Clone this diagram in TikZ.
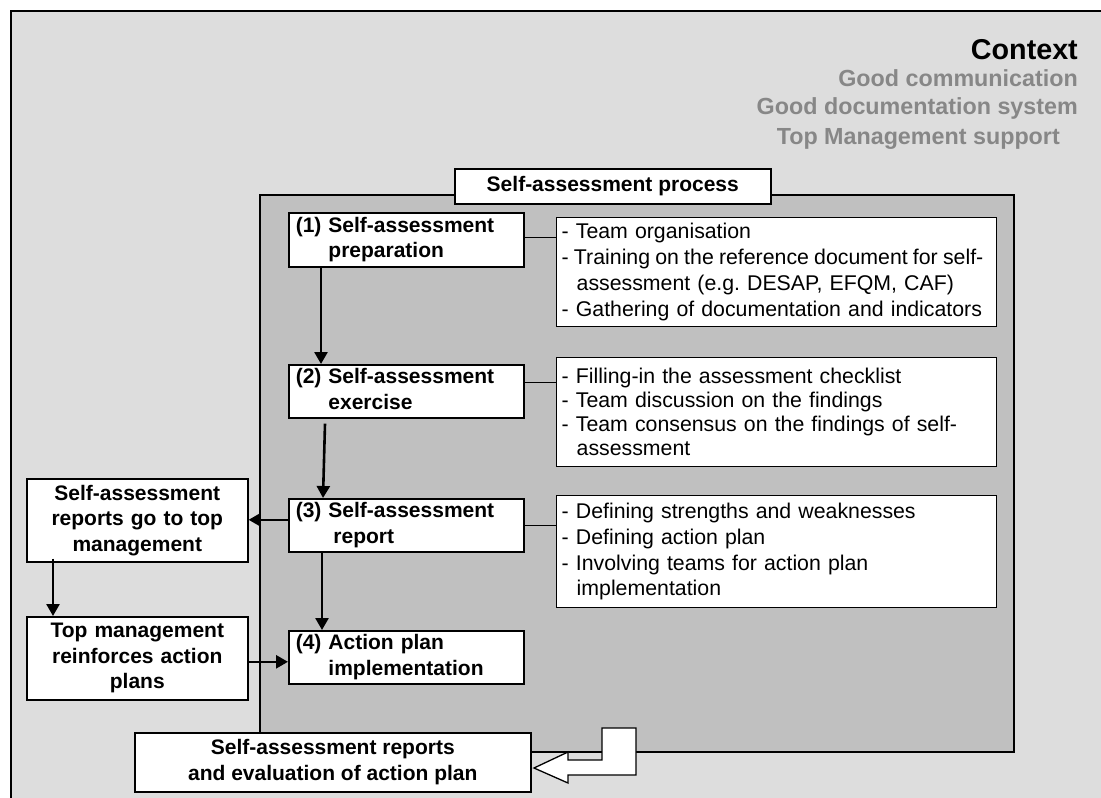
\documentclass[tikz,border=0pt]{standalone}
\usepackage{fontspec}
\setmainfont{Liberation Sans}
\usetikzlibrary{arrows.meta}
\definecolor{ctxbg}{HTML}{DDDDDD}
\definecolor{procbg}{HTML}{C0C0C0}
\definecolor{ctxgray}{HTML}{878787}
\frenchspacing
% a line set with slightly tighter word spacing
\newcommand{\tightline}[1]{\mbox{\spaceskip=0.88\fontdimen2\font\relax #1}}

\begin{document}
\begin{tikzpicture}[x=1pt,y=-1pt,
  boldtext/.style={font=\fontsize{21pt}{25.5pt}\selectfont\bfseries},
  stepbox/.style={draw, fill=white, line width=1.6pt, anchor=north west,
    text width=221pt, inner xsep=7pt, inner ysep=0pt, align=left, boldtext},
  sidebox/.style={draw, fill=white, line width=1.6pt, anchor=north west,
    text width=207pt, inner xsep=7pt, inner ysep=0pt, minimum height=83pt,
    align=center, boldtext},
  detailbox/.style={draw, fill=white, line width=1.4pt, anchor=north west,
    text width=430pt, inner xsep=5pt, inner ysep=0pt, align=left},
  ctxline/.style={anchor=base east, inner sep=0pt, text=ctxgray,
    font=\fontsize{23.3pt}{28pt}\selectfont\bfseries},
  arr/.style={line width=2.6pt, -{Triangle[width=13pt,length=12pt]}},
  link/.style={line width=1.2pt}
]
% canvas and context frame
\useasboundingbox (0,0) rectangle (1101,798);
\fill[white] (0,0) rectangle (1101,798);
\draw[fill=ctxbg, line width=1.6pt] (11,11) rectangle (1130,830);

% context heading and factors
\node[anchor=base east, inner sep=0pt, font=\fontsize{28.7pt}{34pt}\selectfont\bfseries] (ctx) at (1078,59) {Context};
\node[ctxline] (f1) at (1078,86) {Good communication};
\node[ctxline] (f2) at (1078,114) {Good documentation system};
\node[ctxline] (f3) at (1060,144) {Top Management support};

% self-assessment process area
\node[draw, fill=procbg, line width=1.8pt, anchor=north west, inner sep=0pt,
  minimum width=754pt, minimum height=557pt] (proc) at (259,194) {};
\node[draw, fill=white, line width=1.6pt, anchor=north west, inner sep=0pt,
  minimum width=316pt, minimum height=35pt, boldtext] (ptitle) at (454,168) {Self-assessment process};

% process steps
\node[stepbox, minimum height=54pt] (b1) at (288,212) {(1) Self-assessment\\\phantom{(1) }preparation};
\node[stepbox, minimum height=53pt] (b2) at (288,364) {(2) Self-assessment\\\phantom{(2) }exercise};
\node[stepbox, minimum height=53pt] (b3) at (288,498) {(3) Self-assessment\\\phantom{(3) }\hspace{5pt}report};
\node[stepbox, minimum height=53pt] (b4) at (288,630) {(4) Action plan\\\phantom{(4) }implementation};

% step details
\node[detailbox, minimum height=109pt, font=\fontsize{21.3pt}{26pt}\selectfont] (d1) at (556,217)
  {- Team organisation\\\tightline{- Training on the reference document for self-}\\\hspace*{15pt}assessment (e.g. DESAP, EFQM, CAF)\\\mbox{- Gathering of documentation and indicators}};
\node[detailbox, minimum height=109pt, font=\fontsize{21.3pt}{24pt}\selectfont] (d2) at (556,357)
  {- Filling-in the assessment checklist\\- Team discussion on the findings\\\mbox{- Team consensus on the findings of self-}\\\hspace*{15pt}assessment};
\node[detailbox, minimum height=112pt, font=\fontsize{21.3pt}{25.7pt}\selectfont] (d3) at (556,495)
  {- Defining strengths and weaknesses\\- Defining action plan\\- Involving teams for action plan\\\hspace*{15pt}implementation};

\draw[link] ([yshift=2pt]b1.east) -- ([yshift=2pt]b1.east -| d1.west);
\draw[link] ([yshift=8.5pt]b2.east) -- ([yshift=8.5pt]b2.east -| d2.west);
\draw[link] (b3.east) -- (b3.east -| d3.west);

% management boxes
\node[sidebox] (ta) at (26,478) {Self-assessment\\reports go to top\\management};
\node[sidebox] (tb) at (26,616) {Top management\\reinforces action\\plans};

% reporting and evaluation
\node[draw, fill=white, line width=1.6pt, anchor=north west, inner sep=0pt,
  minimum width=396pt, minimum height=59pt, align=center, boldtext] (ev) at (134,732)
  {Self-assessment reports\\and evaluation of action plan};

% hollow bent arrow feeding the evaluation box
\draw[fill=white, line width=1.3pt, line join=miter]
  (602,728) -- (636,728) -- (636,775) -- (568,775) -- (568,783) -- (534,768)
  -- (568,752) -- (568,760) -- (602,760) -- cycle;

% flow arrows
\draw[arr] ([xshift=33pt]b1.south west) -- ([xshift=33pt]b2.north west);
\draw[arr] ([xshift=37pt,yshift=-5pt]b2.south west) -- ([xshift=35pt]b3.north west);
\draw[arr] ([xshift=34pt]b3.south west) -- ([xshift=34pt]b4.north west);
\draw[arr] ([yshift=5.5pt]b3.west) -- ([yshift=5.5pt]b3.west -| ta.east);
\draw[arr] ([xshift=27pt,yshift=4pt]ta.south west) -- ([xshift=27pt]tb.north west);
\draw[arr] ([yshift=-3.5pt]tb.east) -- ([yshift=-3.5pt]tb.east -| b4.west);
\end{tikzpicture}
\end{document}
